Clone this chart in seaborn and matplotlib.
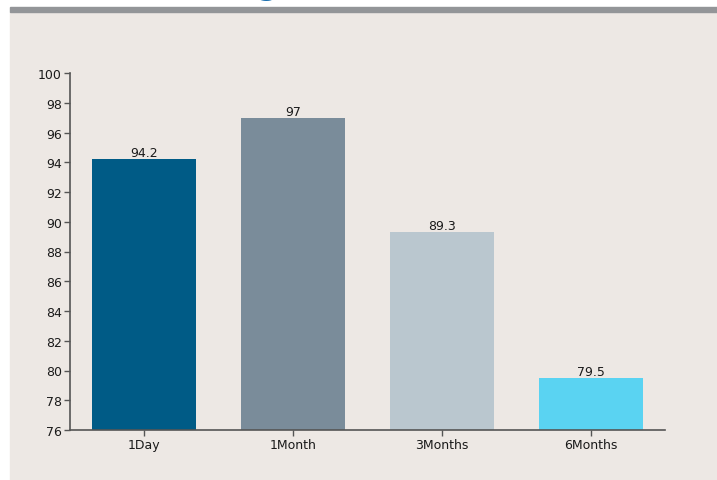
import matplotlib
matplotlib.use("Agg")
import matplotlib.pyplot as plt
from matplotlib.patches import Rectangle
import seaborn as sns
import pandas as pd

# Chart data
periods = ["1Day", "1Month", "3Months", "6Months"]
scores = [94.2, 97, 89.3, 79.5]
bar_colors = ["#005b86", "#7a8c9a", "#bac7cf", "#5ad3f2"]
y_ticks = list(range(76, 101, 2))

W, H = 717, 481
sns.set_theme(style="white")
plt.rcParams["font.family"] = ["DejaVu Sans"]

fig = plt.figure(figsize=(W / 100, H / 100), dpi=100, facecolor="white")

# header strip and panel background (behind the axes)
fig.patches.append(Rectangle((10 / W, 0), 1 - 10 / W, (H - 13) / H,
                             transform=fig.transFigure, color="#ede8e4", zorder=-2))
fig.patches.append(Rectangle((10 / W, (H - 13) / H), 1 - 10 / W, 5 / H,
                             transform=fig.transFigure, color="#939598", zorder=-2))
fig.text(267 / W, 1 + 5.5 / H, "g", color="#1a6faf", fontsize=22, fontweight="bold",
         ha="center", va="baseline", zorder=-1)

ax = fig.add_axes([70 / W, (H - 431) / H, (665 - 70) / W, (431 - 74) / H])
ax.set_facecolor("none")

df = pd.DataFrame({"period": periods, "score": scores})
sns.barplot(data=df, x="period", y="score", hue="period", palette=bar_colors,
            legend=False, width=0.7, saturation=1, linewidth=0, ax=ax)

ax.set_ylim(76, 100)
ax.set_yticks(y_ticks)
ax.set_xlabel("")
ax.set_ylabel("")
for c in ax.containers:
    ax.bar_label(c, labels=[f"{v:g}" for v in c.datavalues], padding=0,
                 fontsize=9, color="#1a1a1a")

for side in ["top", "right"]:
    ax.spines[side].set_visible(False)
for side in ["left", "bottom"]:
    ax.spines[side].set_color("#555555")
    ax.spines[side].set_linewidth(1.2)
ax.tick_params(axis="both", length=4, width=1, color="#555555", labelsize=9,
               labelcolor="#1a1a1a", pad=2, left=True, bottom=True)

fig.savefig("out.png", dpi=100, facecolor="white")
